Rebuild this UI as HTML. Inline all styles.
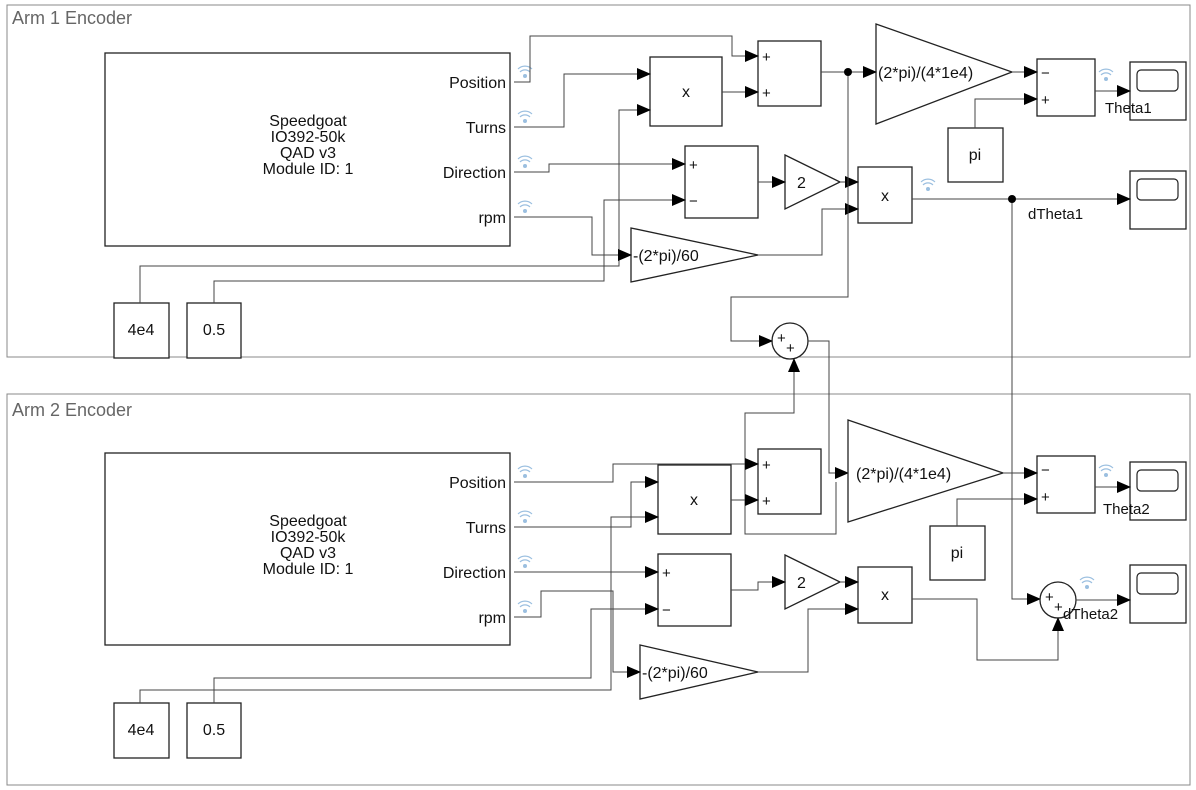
<!DOCTYPE html>
<html><head><meta charset="utf-8"><style>
html,body{margin:0;padding:0;background:#fff;}
svg{display:block;font-family:"Liberation Sans",Arial,sans-serif;}
.b{fill:#fff;stroke:#222;stroke-width:1.3}
.l{fill:none;stroke:#444;stroke-width:1}
.p{fill:none;stroke:#888;stroke-width:1}
.t{font-size:16px;fill:#111}
.s{font-size:15px;fill:#111}
.w{fill:none;stroke:#9bbfe0;stroke-width:1.2}
</style></head><body>
<svg width="1196" height="790" viewBox="0 0 1196 790">
<defs>
<marker id="a" markerWidth="14" markerHeight="12" refX="13" refY="6" orient="auto" markerUnits="userSpaceOnUse"><path d="M0,0 L14,6 L0,12 Z" fill="#000"/></marker>
<g id="wf"><path class="w" d="M-5,-3 A7,7 0 0 1 5,-3"/><path class="w" d="M-7,-6 A10,10 0 0 1 7,-6"/><circle r="2" fill="#9bbfe0" cx="0" cy="1"/></g>
<g id="sc"><rect class="b" x="0" y="0" width="56" height="58"/><rect x="7" y="8" width="41" height="21" rx="4" fill="#fff" stroke="#222" stroke-width="1.2"/></g>
</defs>
<rect class="p" x="7" y="5" width="1183" height="352"/>
<text x="12" y="24" font-size="18" fill="#666">Arm 1 Encoder</text>
<rect class="p" x="7" y="394" width="1183" height="391"/>
<text x="12" y="416" font-size="18" fill="#666">Arm 2 Encoder</text>

<rect class="b" x="105" y="53" width="405" height="193"/>
<g class="t" text-anchor="middle"><text x="308" y="126">Speedgoat</text><text x="308" y="142">IO392-50k</text><text x="308" y="158">QAD v3</text><text x="308" y="174">Module ID: 1</text></g>
<g class="t" text-anchor="end"><text x="506" y="88">Position</text><text x="506" y="133">Turns</text><text x="506" y="178">Direction</text><text x="506" y="223">rpm</text></g>
<use href="#wf" x="525" y="75"/><use href="#wf" x="525" y="120"/><use href="#wf" x="525" y="165"/><use href="#wf" x="525" y="210"/>

<rect class="b" x="758" y="41" width="63" height="65"/><text class="s" x="762" y="62">+</text><text class="s" x="762" y="98">+</text>
<rect class="b" x="650" y="57" width="72" height="69"/><text class="t" x="686" y="97" text-anchor="middle">x</text>
<rect class="b" x="685" y="146" width="73" height="72"/><text class="s" x="689" y="170">+</text><text class="s" x="689" y="206">−</text>
<path class="b" d="M785,155 L840,182 L785,209 Z"/><text class="t" x="797" y="188">2</text>
<rect class="b" x="858" y="167" width="54" height="56"/><text class="t" x="885" y="201" text-anchor="middle">x</text>
<path class="b" d="M631,228 L758,255 L631,282 Z"/><text class="t" x="633" y="261">-(2*pi)/60</text>
<path class="b" d="M876,24 L1012,72 L876,124 Z"/><text class="t" x="878" y="78">(2*pi)/(4*1e4)</text>
<rect class="b" x="1037" y="59" width="58" height="57"/><text class="s" x="1041" y="78">−</text><text class="s" x="1041" y="105">+</text>
<rect class="b" x="948" y="128" width="55" height="54"/><text class="t" x="975" y="160" text-anchor="middle">pi</text>
<use href="#sc" x="1130" y="62"/><use href="#sc" x="1130" y="171"/>
<rect class="b" x="114" y="303" width="55" height="55"/><text class="t" x="141" y="335" text-anchor="middle">4e4</text>
<rect class="b" x="187" y="303" width="54" height="55"/><text class="t" x="214" y="335" text-anchor="middle">0.5</text>
<circle class="b" cx="790" cy="341" r="18"/><text class="s" x="777" y="343">+</text><text class="s" x="786" y="353">+</text>

<g class="l">
<path d="M514,82 H530 V36 H732 V56 H758" marker-end="url(#a)"/>
<path d="M514,127 H564 V74 H650" marker-end="url(#a)"/>
<path d="M722,92 H758" marker-end="url(#a)"/>
<path d="M140,303 V266 H619 V110 H650" marker-end="url(#a)"/>
<path d="M514,217 H592 V255 H631" marker-end="url(#a)"/>
<path d="M214,303 V281 H604 V200 H685" marker-end="url(#a)"/>
<path d="M514,172 H549 V164 H685" marker-end="url(#a)"/>
<path d="M758,182 H785" marker-end="url(#a)"/>
<path d="M840,182 H858" marker-end="url(#a)"/>
<path d="M758,255 H822 V209 H858" marker-end="url(#a)"/>
<path d="M821,72 H876" marker-end="url(#a)"/>
<path d="M848,72 V297 H731 V341 H772" marker-end="url(#a)"/>
<path d="M1012,72 H1037" marker-end="url(#a)"/>
<path d="M975,128 V99 H1037" marker-end="url(#a)"/>
<path d="M1095,91 H1130" marker-end="url(#a)"/>
<path d="M912,199 H1130" marker-end="url(#a)"/>
<path d="M1012,199 V599 H1040" marker-end="url(#a)"/>
<path d="M808,341 H829 V473 H848" marker-end="url(#a)"/>
<path d="M836,482 V534 H745 V413 H794 V359" marker-end="url(#a)"/>
</g>
<circle cx="848" cy="72" r="4" fill="#000"/><circle cx="1012" cy="199" r="4" fill="#000"/>
<use href="#wf" x="928" y="188"/><use href="#wf" x="1106" y="78"/>
<text class="s" x="1105" y="113">Theta1</text><text class="s" x="1028" y="219">dTheta1</text>

<rect class="b" x="105" y="453" width="405" height="192"/>
<g class="t" text-anchor="middle"><text x="308" y="526">Speedgoat</text><text x="308" y="542">IO392-50k</text><text x="308" y="558">QAD v3</text><text x="308" y="574">Module ID: 1</text></g>
<g class="t" text-anchor="end"><text x="506" y="488">Position</text><text x="506" y="533">Turns</text><text x="506" y="578">Direction</text><text x="506" y="623">rpm</text></g>
<use href="#wf" x="525" y="475"/><use href="#wf" x="525" y="520"/><use href="#wf" x="525" y="565"/><use href="#wf" x="525" y="610"/>

<rect class="b" x="758" y="449" width="63" height="65"/><text class="s" x="762" y="470">+</text><text class="s" x="762" y="506">+</text>
<rect class="b" x="658" y="465" width="73" height="69"/><text class="t" x="694" y="505" text-anchor="middle">x</text>
<rect class="b" x="658" y="554" width="73" height="72"/><text class="s" x="662" y="578">+</text><text class="s" x="662" y="615">−</text>
<path class="b" d="M785,555 L840,582 L785,609 Z"/><text class="t" x="797" y="588">2</text>
<rect class="b" x="858" y="567" width="54" height="56"/><text class="t" x="885" y="600" text-anchor="middle">x</text>
<path class="b" d="M640,645 L758,672 L640,699 Z"/><text class="t" x="642" y="678">-(2*pi)/60</text>
<path class="b" d="M848,420 L1003,473 L848,522 Z"/><text class="t" x="856" y="479">(2*pi)/(4*1e4)</text>
<rect class="b" x="1037" y="456" width="58" height="57"/><text class="s" x="1041" y="475">−</text><text class="s" x="1041" y="502">+</text>
<rect class="b" x="930" y="526" width="55" height="54"/><text class="t" x="957" y="558" text-anchor="middle">pi</text>
<use href="#sc" x="1130" y="462"/><use href="#sc" x="1130" y="565"/>
<rect class="b" x="114" y="703" width="55" height="55"/><text class="t" x="141" y="735" text-anchor="middle">4e4</text>
<rect class="b" x="187" y="703" width="54" height="55"/><text class="t" x="214" y="735" text-anchor="middle">0.5</text>
<circle class="b" cx="1058" cy="600" r="18"/><text class="s" x="1045" y="602">+</text><text class="s" x="1054" y="612">+</text>

<g class="l">
<path d="M514,482 H613 V464 H758" marker-end="url(#a)"/>
<path d="M514,527 H631 V482 H658" marker-end="url(#a)"/>
<path d="M731,500 H758" marker-end="url(#a)"/>
<path d="M140,703 V690 H611 V517 H658" marker-end="url(#a)"/>
<path d="M214,703 V678 H591 V609 H658" marker-end="url(#a)"/>
<path d="M514,617 H541 V591 H613 V672 H640" marker-end="url(#a)"/>
<path d="M514,572 H658" marker-end="url(#a)"/>
<path d="M731,590 H758 V582 H785" marker-end="url(#a)"/>
<path d="M840,582 H858" marker-end="url(#a)"/>
<path d="M758,672 H808 V609 H858" marker-end="url(#a)"/>
<path d="M1003,473 H1037" marker-end="url(#a)"/>
<path d="M957,526 V499 H1037" marker-end="url(#a)"/>
<path d="M1095,487 H1130" marker-end="url(#a)"/>
<path d="M912,599 H977 V660 H1058 V618" marker-end="url(#a)"/>
<path d="M1076,600 H1130" marker-end="url(#a)"/>
</g>
<use href="#wf" x="1106" y="474"/><use href="#wf" x="1087" y="586"/>
<text class="s" x="1103" y="514">Theta2</text><text class="s" x="1063" y="619">dTheta2</text>
</svg>
</body></html>
